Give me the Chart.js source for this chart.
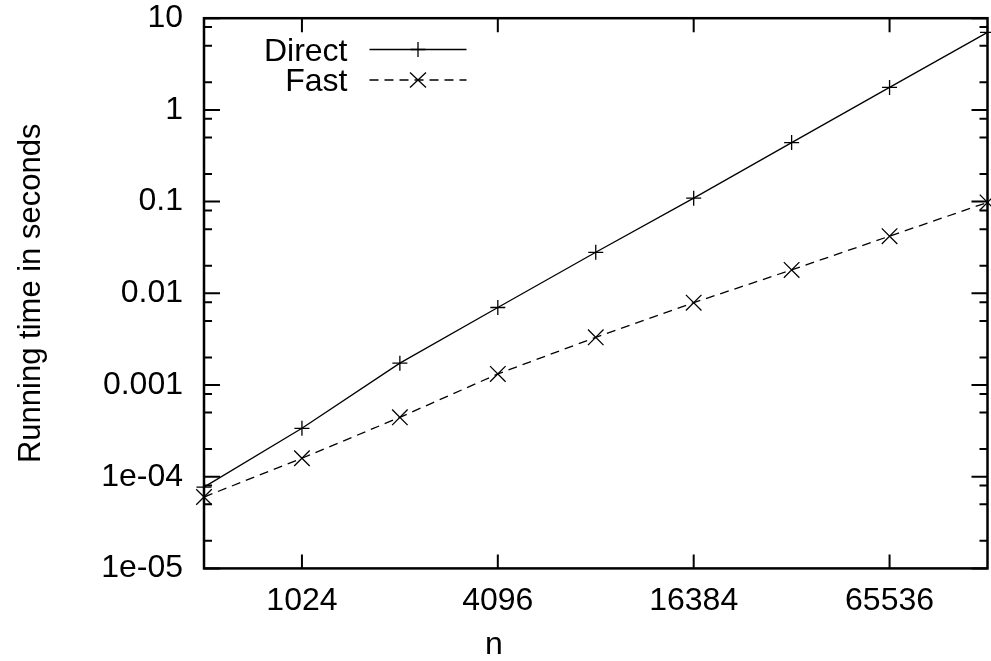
<!DOCTYPE html>
<html lang="en">
<head>
  <meta charset="UTF-8" />
  <title>Running time: Direct vs Fast</title>
  <script src="https://cdn.jsdelivr.net/npm/chart.js"></script>
  <style>
    html, body { margin: 0; padding: 0; background: #fff; }
    #chart { display: block; }
  </style>
</head>
<body>
  <canvas id="chart" width="991" height="661"></canvas>

  <script>
    // ── data ────────────────────────────────────────────────
    const nValues = [512, 1024, 2048, 4096, 8192, 16384, 32768, 65536, 131072];
    const directTimes = [7.7e-5, 3.37e-4, 1.73e-3, 7.0e-3, 0.028, 0.109, 0.44, 1.76, 7.0];
    const fastTimes = [6.0e-5, 1.59e-4, 4.44e-4, 1.32e-3, 3.31e-3, 7.9e-3, 0.018, 0.042, 0.098];

    const xTicks = [1024, 4096, 16384, 65536];
    const yTicks = [1e-5, 1e-4, 1e-3, 0.01, 0.1, 1, 10];
    const yTickLabels = ['1e-05', '1e-04', '0.001', '0.01', '0.1', '1', '10'];
    const yMinorSteps = [2, 5, 8];

    const FONT = "'Liberation Sans', Arial, sans-serif";
    Chart.defaults.font.family = FONT;
    Chart.defaults.font.size = 32;
    Chart.defaults.color = '#000';

    // keep the plot box where gnuplot put it, ignore label overhang padding
    function noPad(s) {
      s.paddingTop = 0; s.paddingBottom = 0;
      s.paddingLeft = 0; s.paddingRight = 0;
    }

    // gnuplot-ish frame with inward ticks on all four sides
    const framePlugin = {
      id: 'frame',
      afterDatasetsDraw(chart) {
        const { ctx, chartArea: a, scales } = chart;
        const xs = scales.x, ys = scales.y;
        ctx.save();
        ctx.strokeStyle = '#000';
        ctx.lineWidth = 2;
        ctx.beginPath();
        yTicks.forEach(v => {
          const y = ys.getPixelForValue(v);
          ctx.moveTo(a.left, y); ctx.lineTo(a.left + 16, y);
          ctx.moveTo(a.right, y); ctx.lineTo(a.right - 16, y);
          if (v < 10) {
            yMinorSteps.forEach(m => {
              const ym = ys.getPixelForValue(v * m);
              ctx.moveTo(a.left, ym); ctx.lineTo(a.left + 8, ym);
              ctx.moveTo(a.right, ym); ctx.lineTo(a.right - 8, ym);
            });
          }
        });
        xTicks.forEach(v => {
          const x = xs.getPixelForValue(v);
          ctx.moveTo(x, a.bottom); ctx.lineTo(x, a.bottom - 14);
          ctx.moveTo(x, a.top); ctx.lineTo(x, a.top + 14);
        });
        ctx.stroke();
        ctx.lineWidth = 2.5;
        ctx.strokeRect(a.left, a.top, a.right - a.left, a.bottom - a.top);
        ctx.restore();
      }
    };

    function drawMarker(ctx, style, x, y) {
      ctx.beginPath();
      if (style === 'cross') {
        ctx.moveTo(x - 7.5, y); ctx.lineTo(x + 7.5, y);
        ctx.moveTo(x, y - 7.5); ctx.lineTo(x, y + 7.5);
      } else {
        ctx.moveTo(x - 8, y - 7.5); ctx.lineTo(x + 8, y + 7.5);
        ctx.moveTo(x - 8, y + 7.5); ctx.lineTo(x + 8, y - 7.5);
      }
      ctx.stroke();
    }

    // gnuplot style key (text right aligned, then line sample) + x label
    const keyPlugin = {
      id: 'key',
      afterDraw(chart) {
        const { ctx } = chart;
        ctx.save();
        ctx.fillStyle = '#000';
        ctx.strokeStyle = '#000';
        ctx.font = '32px ' + FONT;
        ctx.textAlign = 'right';
        ctx.textBaseline = 'alphabetic';
        const rows = [49.5, 80];
        chart.data.datasets.forEach((ds, i) => {
          const y = rows[i];
          ctx.fillText(ds.label, 347.5, y + 11);
          ctx.lineWidth = ds.borderWidth;
          ctx.setLineDash(ds.borderDash || []);
          ctx.beginPath();
          ctx.moveTo(369.5, y); ctx.lineTo(466.5, y);
          ctx.stroke();
          ctx.setLineDash([]);
          drawMarker(ctx, ds.pointStyle, 418, y);
        });
        // x axis title, centred on the canvas like gnuplot does
        ctx.textAlign = 'center';
        ctx.fillText('n', 494, 654);
        ctx.restore();
      }
    };

    new Chart(document.getElementById('chart').getContext('2d'), {
      type: 'line',
      data: {
        datasets: [
          {
            label: 'Direct',
            data: nValues.map((n, i) => ({ x: n, y: directTimes[i] })),
            borderColor: '#000',
            backgroundColor: '#000',
            borderWidth: 1.3,
            pointStyle: 'cross',
            pointRadius: 7.5,
            pointBorderWidth: 1.3,
            pointBorderColor: '#000',
            tension: 0,
            fill: false,
            clip: false
          },
          {
            label: 'Fast',
            data: nValues.map((n, i) => ({ x: n, y: fastTimes[i] })),
            borderColor: '#000',
            backgroundColor: '#000',
            borderWidth: 1.3,
            borderDash: [9, 6],
            pointStyle: 'crossRot',
            pointRadius: 11,
            pointBorderWidth: 1.3,
            pointBorderColor: '#000',
            tension: 0,
            fill: false,
            clip: false
          }
        ]
      },
      options: {
        responsive: false,
        animation: false,
        layout: {
          autoPadding: false,
          padding: { top: 18.2, right: 3.5, left: 0, bottom: 0 }
        },
        plugins: {
          legend: { display: false },
          tooltip: { enabled: false }
        },
        scales: {
          x: {
            type: 'logarithmic',
            min: 512,
            max: 131072,
            grid: { display: false, drawTicks: false },
            border: { display: false },
            afterBuildTicks: s => { s.ticks = xTicks.map(v => ({ value: v })); },
            afterFit: s => { s.height = 92.6; noPad(s); },
            ticks: {
              padding: 13.4,
              maxRotation: 0,
              autoSkip: false,
              callback: v => String(v)
            }
          },
          y: {
            type: 'logarithmic',
            min: 1e-5,
            max: 10,
            grid: { display: false, drawTicks: false },
            border: { display: false },
            afterBuildTicks: s => { s.ticks = yTicks.map(v => ({ value: v })); },
            afterFit: s => { s.width = 204; noPad(s); },
            ticks: {
              padding: 21,
              autoSkip: false,
              callback: v => {
                const i = yTicks.indexOf(v);
                return i >= 0 ? yTickLabels[i] : '';
              }
            },
            title: {
              display: true,
              text: 'Running time in seconds',
              font: { size: 31 },
              padding: { top: 12.4, bottom: 0 }
            }
          }
        }
      },
      plugins: [framePlugin, keyPlugin]
    });
  </script>
</body>
</html>
